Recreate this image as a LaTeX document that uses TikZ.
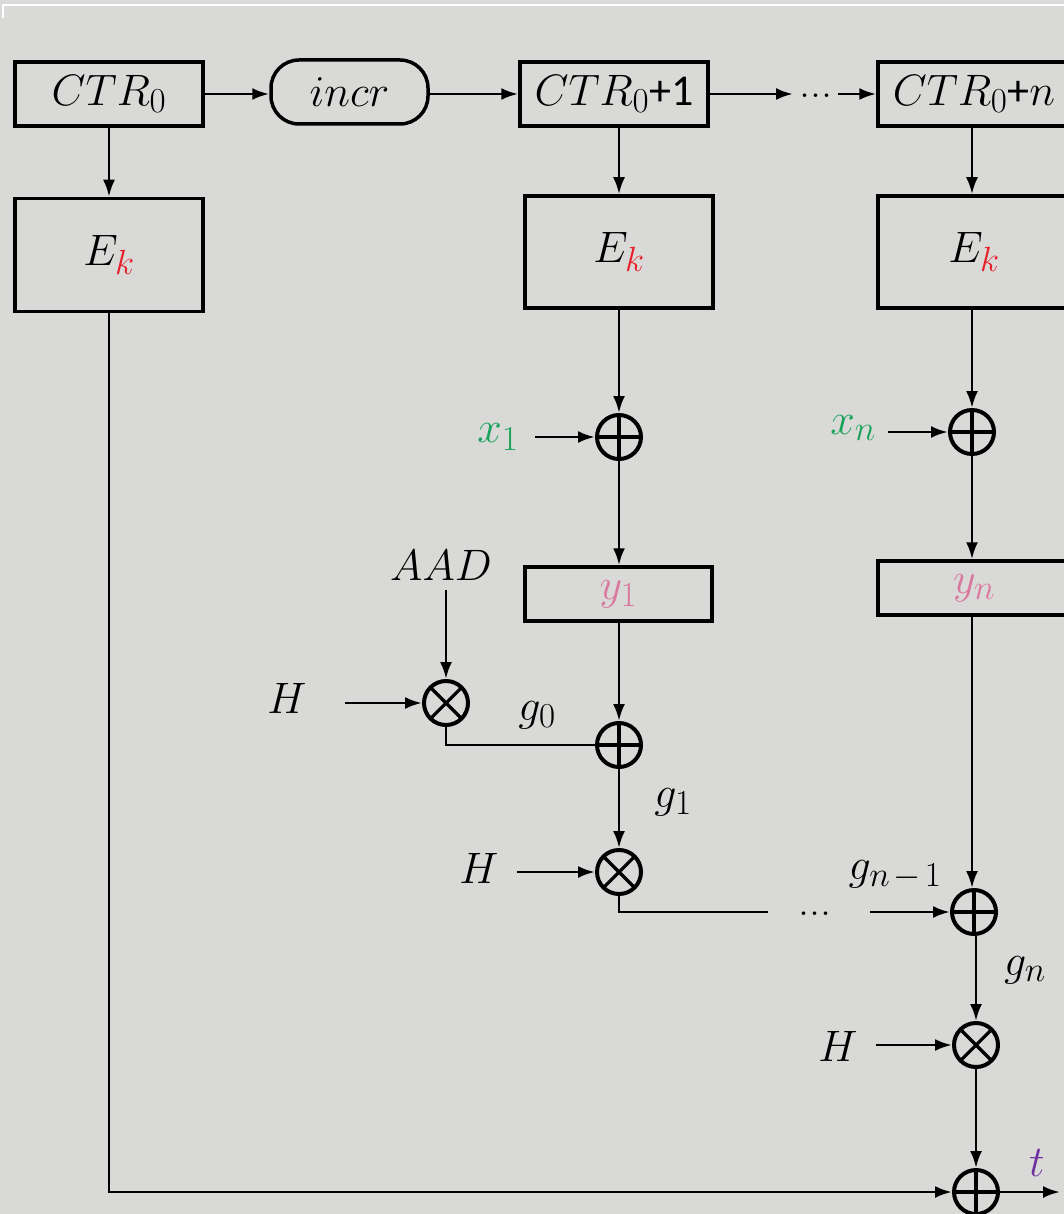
\RequirePackage{fix-cm}
\documentclass[tikz,border=0pt]{standalone}
\usepackage{fontspec}
\newfontfamily\carl{Carlito}
\usetikzlibrary{arrows.meta}
% subscript set at a fixed, slightly larger size
\newcommand\lo[1]{_{\mbox{\fontsize{35}{40}\selectfont$#1$}}}
\definecolor{bg}{HTML}{D9D9D8}
\definecolor{keyred}{HTML}{E8202A}
\definecolor{ptgreen}{HTML}{1BA35A}
\definecolor{ctpink}{HTML}{D9789F}
\definecolor{tagpurple}{HTML}{7030A0}
\tikzset{
  lbl/.style={font=\fontsize{44}{52}\selectfont, inner sep=0pt},
  blk/.style={lbl, draw, line width=3.5pt, minimum width=188pt},
  arr/.style={line width=2.8pt, -{Latex[length=17pt,width=12pt]}},
  wire/.style={line width=2.8pt},
  opnode/.style={circle, draw, line width=4pt, minimum size=44pt, inner sep=0pt},
  xorop/.style={opnode, path picture={
      \draw[line width=3.2pt] (path picture bounding box.north) -- (path picture bounding box.south)
                              (path picture bounding box.west) -- (path picture bounding box.east);}},
  mulop/.style={opnode, path picture={
      \draw[line width=3.2pt] (path picture bounding box.north west) -- (path picture bounding box.south east)
                              (path picture bounding box.north east) -- (path picture bounding box.south west);}},
}
\begin{document}
\begin{tikzpicture}[x=1pt,y=-1pt]
  \useasboundingbox (0,0) rectangle (1064,1214);
  \fill[bg] (0,0) rectangle (1064,1214);
  \draw[white, line width=2pt] (3,18) -- (3,5) -- (1064,5);

  % counter row
  \node[blk, minimum height=64pt] (ctr0) at (109,94) {$CTR\lo{0}$};
  \node[blk, minimum height=64pt, minimum width=157pt, rounded corners=28pt] (incr) at (349.5,92) {$incr$};
  \node[blk, minimum height=64pt] (ctr1) at (614,94) {$CTR\lo{0}${\carl +1}};
  \node[lbl] (dots1) at (816,96) {...};
  \node[blk, minimum height=64pt, minimum width=192pt] (ctrn) at (974,94) {$CTR\lo{0}${\carl +}$n$};

  % block cipher
  \node[blk, minimum height=113pt] (ek0) at (109,255) {$E\lo{\textcolor{keyred}{k}}$};
  \node[blk, minimum height=112pt] (ek1) at (619,252) {$E\lo{\textcolor{keyred}{k}}$};
  \node[blk, minimum height=112pt, minimum width=192pt] (ekn) at (974,252) {$E\lo{\textcolor{keyred}{k}}$};

  % plaintext xor
  \node[xorop] (xor1) at (619,437) {};
  \node[xorop] (xorn) at (972,432) {};
  \node[lbl, text=ptgreen] (x1) at (498,437) {$x\lo{1}$};
  \node[lbl, text=ptgreen] (xn) at (853,428) {$x\lo{n}$};

  % ciphertext
  \node[blk, minimum height=54pt, minimum width=187pt, text=ctpink] (y1) at (618.5,594) {$y\lo{1}$};
  \node[blk, minimum height=54pt, minimum width=192pt, text=ctpink] (yn) at (974,588) {$y\lo{n}$};

  % GHASH chain
  \node[lbl] (aad) at (441,565) {$AAD$};
  \node[mulop] (mul0) at (446,703) {};
  \node[lbl] (h0) at (287,698) {$H$};
  \node[xorop] (xg1) at (619,745) {};
  \node[lbl] (g0) at (537,715) {$g\lo{0}$};
  \node[lbl] (g1) at (673,802) {$g\lo{1}$};
  \node[mulop] (mul1) at (619,872) {};
  \node[lbl] (h1) at (479,868) {$H$};
  \node[lbl] (dots2) at (815,914) {...};
  \node[xorop] (xgn) at (974,912) {};
  \node[lbl] (gnm) at (895,875) {$g\lo{n\mkern2mu{-}\mkern2mu1}$};
  \node[lbl] (gn) at (1025,970) {$g\lo{n}$};
  \node[mulop] (muln) at (976,1045) {};
  \node[lbl] (hn) at (838,1046) {$H$};
  \node[xorop] (xt) at (976,1192) {};
  \node[lbl, text=tagpurple] (t) at (1037,1163) {$t$};

  % free ends of connectors
  \coordinate (x1s) at (535,437);
  \coordinate (xns) at (888,432);
  \coordinate (aads) at (446,590);
  \coordinate (h0s) at (345,703);
  \coordinate (h1s) at (517,872);
  \coordinate (w1e) at (768,912);
  \coordinate (w2s) at (870,912);
  \coordinate (hns) at (876,1045);
  \coordinate (tout) at (1060,1192);
  \coordinate (d1a) at (793,94);
  \coordinate (d1b) at (838,94);

  % counter row arrows
  \draw[arr] (ctr0) -- (incr.west |- ctr0);
  \draw[arr] (incr.east |- ctr0) -- (ctr1);
  \draw[arr] (ctr1.east) -- (d1a);
  \draw[arr] (d1b) -- (ctrn.west);
  \draw[arr] (ctr0) -- (ek0);
  \draw[arr] (ctr1.south -| ek1.north) -- (ek1.north);
  \draw[arr] (ctrn.south -| xorn) -- (ekn.north -| xorn);

  % encryption path
  \draw[arr] (ek1) -- (xor1);
  \draw[arr] (ekn.south -| xorn) -- (xorn);
  \draw[arr] (x1s) -- (xor1);
  \draw[arr] (xns) -- (xorn);
  \draw[arr] (xor1) -- (y1.north -| xor1);
  \draw[arr] (xorn) -- (yn.north -| xorn);

  % authentication path
  \draw[arr] (aads) -- (mul0);
  \draw[arr] (h0s) -- (mul0);
  \draw[wire] (mul0.south) |- (xg1.west);
  \draw[arr] (y1.south -| xg1) -- (xg1);
  \draw[arr] (xg1) -- (mul1);
  \draw[arr] (h1s) -- (mul1);
  \draw[wire] (mul1.south) |- (w1e);
  \draw[arr] (w2s) -- (xgn);
  \draw[arr] (yn.south -| xorn) -- (xgn.north -| xorn);
  \draw[arr] (xgn.south -| muln) -- (muln);
  \draw[arr] (hns) -- (muln);
  \draw[arr] (muln) -- (xt);
  \draw[arr] (ek0.south) |- (xt.west);
  \draw[arr] (xt.east) -- (tout);
\end{tikzpicture}
\end{document}
